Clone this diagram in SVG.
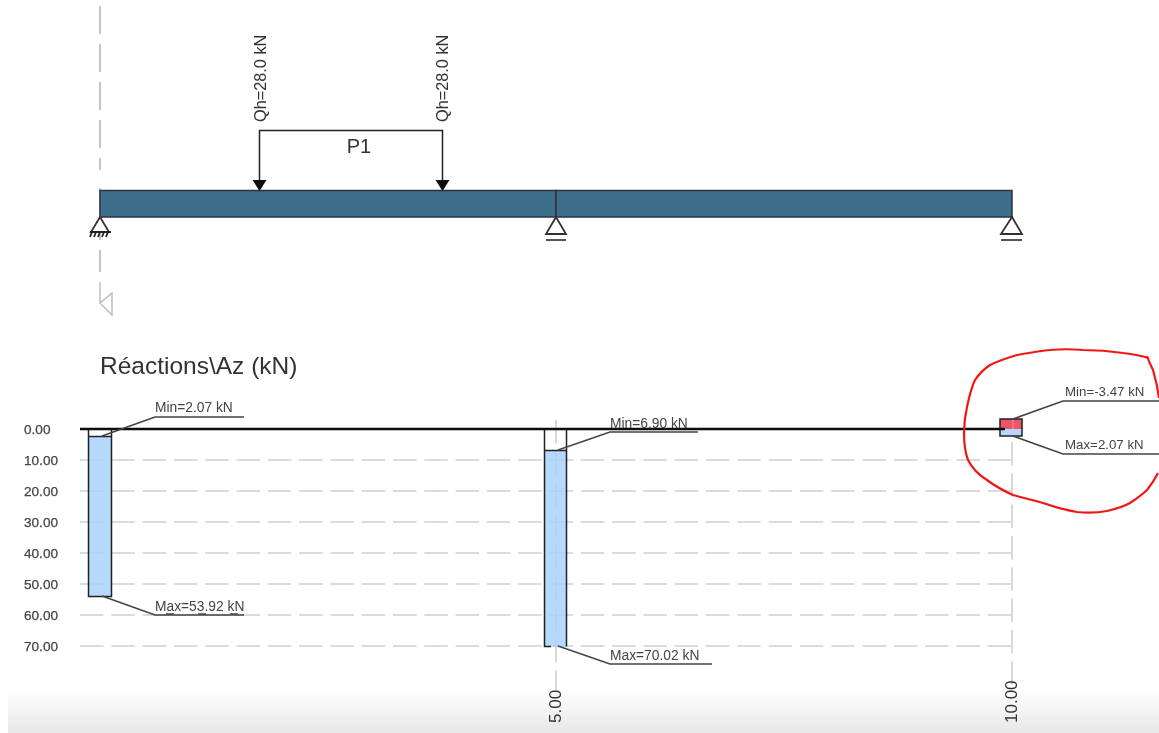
<svg xmlns="http://www.w3.org/2000/svg" width="1159" height="733" viewBox="0 0 1159 733">
<defs>
<style>
text{font-family:"Liberation Sans",Arial,sans-serif;fill:#333}
.ax{font-size:13.600px;fill:#444;stroke:#444;stroke-width:.25}
.lab{font-size:13.800px;fill:#444}
.labr{font-size:13.300px;fill:#444}
.grid{stroke:#cfcfcf;stroke-width:1.6;stroke-dasharray:23.500 7.800;fill:none}
.gv{stroke:#cfcfcf;stroke-width:1.6;stroke-dasharray:23.500 7.800;fill:none}
.blk{stroke:#222;stroke-width:1.500;fill:none}
.lead{stroke:#444;stroke-width:1.600;fill:none}
.bar{fill:#a9d2fb;fill-opacity:.85}
.sup{fill:#fff;stroke:#333;stroke-width:1.800}
</style>
<linearGradient id="fade" x1="0" y1="0" x2="0" y2="1"><stop offset="0" stop-color="#ffffff"/><stop offset="0.5" stop-color="#f3f3f3"/><stop offset="1" stop-color="#e6e6e6"/></linearGradient>
<filter id="soft" x="0" y="0" width="100%" height="100%"><feGaussianBlur stdDeviation="0.35"/></filter>
</defs>
<rect width="1159" height="733" fill="#fff"/>
<rect x="8" y="690" width="1151" height="43" fill="url(#fade)"/>
<g filter="url(#soft)">
<g id="symmetry-axis">
<path d="M100 6V170M100 188V240M100 250V272" fill="none" stroke="#c4c4c4" stroke-width="2" stroke-dasharray="28 10"/>
<path d="M100 282V303L112 315V293L100 303" fill="none" stroke="#bdbdbd" stroke-width="1.500"/>
</g>

<g id="grid">
<path class="grid" d="M80 460H1012M80 491H1012M80 522H1012M80 553H1012M80 584H1012M80 615H1012M80 646H1012"/>
<path class="gv" d="M556 420V690M1012 442V690"/>
</g>

<g id="beam">
<rect x="100" y="190.500" width="456" height="26.500" fill="#3c6e8c" stroke="#2a3540" stroke-width="1.500"/>
<rect x="556" y="190.500" width="456" height="26.500" fill="#3c6e8c" stroke="#2a3540" stroke-width="1.500"/>
</g>

<g id="support-left">
<path d="M100 217L91 232H109Z" fill="#fff" stroke="#333" stroke-width="1.800"/>
<path d="M90 232H111M92 232L90 237M96 232L94 237M100 232L98 237M104 232L102 237M108 232L106 237" stroke="#222" stroke-width="1.800" fill="none"/>
</g>
<g id="support-mid">
<path class="sup" d="M556 217L546 234H566Z"/>
<path d="M546 240H566" stroke="#555" stroke-width="2"/>
</g>
<g id="support-right">
<path class="sup" d="M1012 217L1001 234H1022Z"/>
<path d="M1001 240H1022" stroke="#555" stroke-width="2"/>
</g>

<g id="load-P1">
<path d="M259.500 182V130.500H442.500V182" class="blk"/>
<path d="M252.500 180H266.500L259.500 191ZM435.500 180H449.500L442.500 191Z" fill="#111"/>
<text x="359" y="153" font-size="20" text-anchor="middle">P1</text>
<text transform="translate(266 122) rotate(-90)" font-size="16.300">Qh=28.0 kN</text>
<text transform="translate(448 122) rotate(-90)" font-size="16.300">Qh=28.0 kN</text>
</g>

<g id="title"><text x="100" y="374" font-size="24.500">Réactions\Az (kN)</text></g>

<g id="y-axis">
<text class="ax" x="24" y="434">0.00</text>
<text class="ax" x="24" y="465">10.00</text>
<text class="ax" x="24" y="496">20.00</text>
<text class="ax" x="24" y="527">30.00</text>
<text class="ax" x="24" y="558">40.00</text>
<text class="ax" x="24" y="589">50.00</text>
<text class="ax" x="24" y="620">60.00</text>
<text class="ax" x="24" y="651">70.00</text>
</g>

<g id="x-axis">
<text transform="translate(561 723) rotate(-90)" font-size="17" fill="#444">5.00</text>
<text transform="translate(1017 723) rotate(-90)" font-size="17" fill="#444">10.00</text>
</g>

<g id="reaction-left">
<rect class="bar" x="88.500" y="436.500" width="23" height="160"/>
<rect x="88.500" y="429" width="23" height="167.500" class="blk"/>
<path d="M88.500 436.500H111.500" class="blk"/>
</g>
<g id="reaction-mid">
<rect class="bar" x="544.500" y="450.500" width="22" height="196"/>
<path d="M544.500 429V646.500H551M566.500 429V646.500" class="blk"/>
<path d="M544.500 450.500H566.500" class="blk"/>
</g>
<g id="reaction-right">
<rect x="1000" y="419" width="22" height="10" fill="#ee5767"/>
<rect x="1000" y="429" width="22" height="7" fill="#b5d8fb"/>
<path d="M1013 419V429" stroke="#d9a0a8" stroke-width="1"/>
<rect x="1000" y="419" width="22" height="17" class="blk"/>
</g>

<g id="baseline"><path d="M80 429H1005" stroke="#111" stroke-width="2.500"/></g>

<g id="connectors">
<path class="lead" d="M102 436L155 417H244"/>
<path class="lead" d="M102 596L155 615H244"/>
<path class="lead" d="M558 450L610 432H698"/>
<path class="lead" d="M558 646L610 664H712"/>
<path class="lead" d="M1013 419L1063 401H1159"/>
<path class="lead" d="M1013 436L1063 454H1159"/>
</g>

<g id="labels">
<text class="lab" x="155" y="412">Min=2.07 kN</text>
<text class="lab" x="155" y="611">Max=53.92 kN</text>
<path d="M166 614H174M198 614H206M230 614H238" stroke="#444" stroke-width="1.500"/>
<text class="lab" x="610" y="428">Min=6.90 kN</text>
<text class="lab" x="610" y="660">Max=70.02 kN</text>
<text class="labr" x="1065" y="396">Min=-3.47 kN</text>
<text class="labr" x="1065" y="449">Max=2.07 kN</text>
</g>

<g id="annotation">
<path d="M1147 356C1149 362 1151 366 1153 370C1156 380 1158 390 1159 398M1148 358C1140 355 1132 354 1123 353C1110 351 1097 350 1083 350C1072 349 1061 349 1050 350C1038 351 1028 353 1017 355C1007 358 998 361 990 365C984 369 979 374 975 380C971 388 969 398 967 407C965 416 964 424 964 433C964 443 965 452 968 460C972 468 979 475 987 480C995 486 1004 491 1013 495C1023 498 1033 500 1043 503C1054 507 1065 510 1077 512C1087 513 1097 513 1107 511C1115 509 1123 507 1130 503C1136 499 1142 495 1147 490C1151 485 1155 479 1158 473" fill="none" stroke="#f01818" stroke-width="2.200"/>
</g>
</g>
</svg>
